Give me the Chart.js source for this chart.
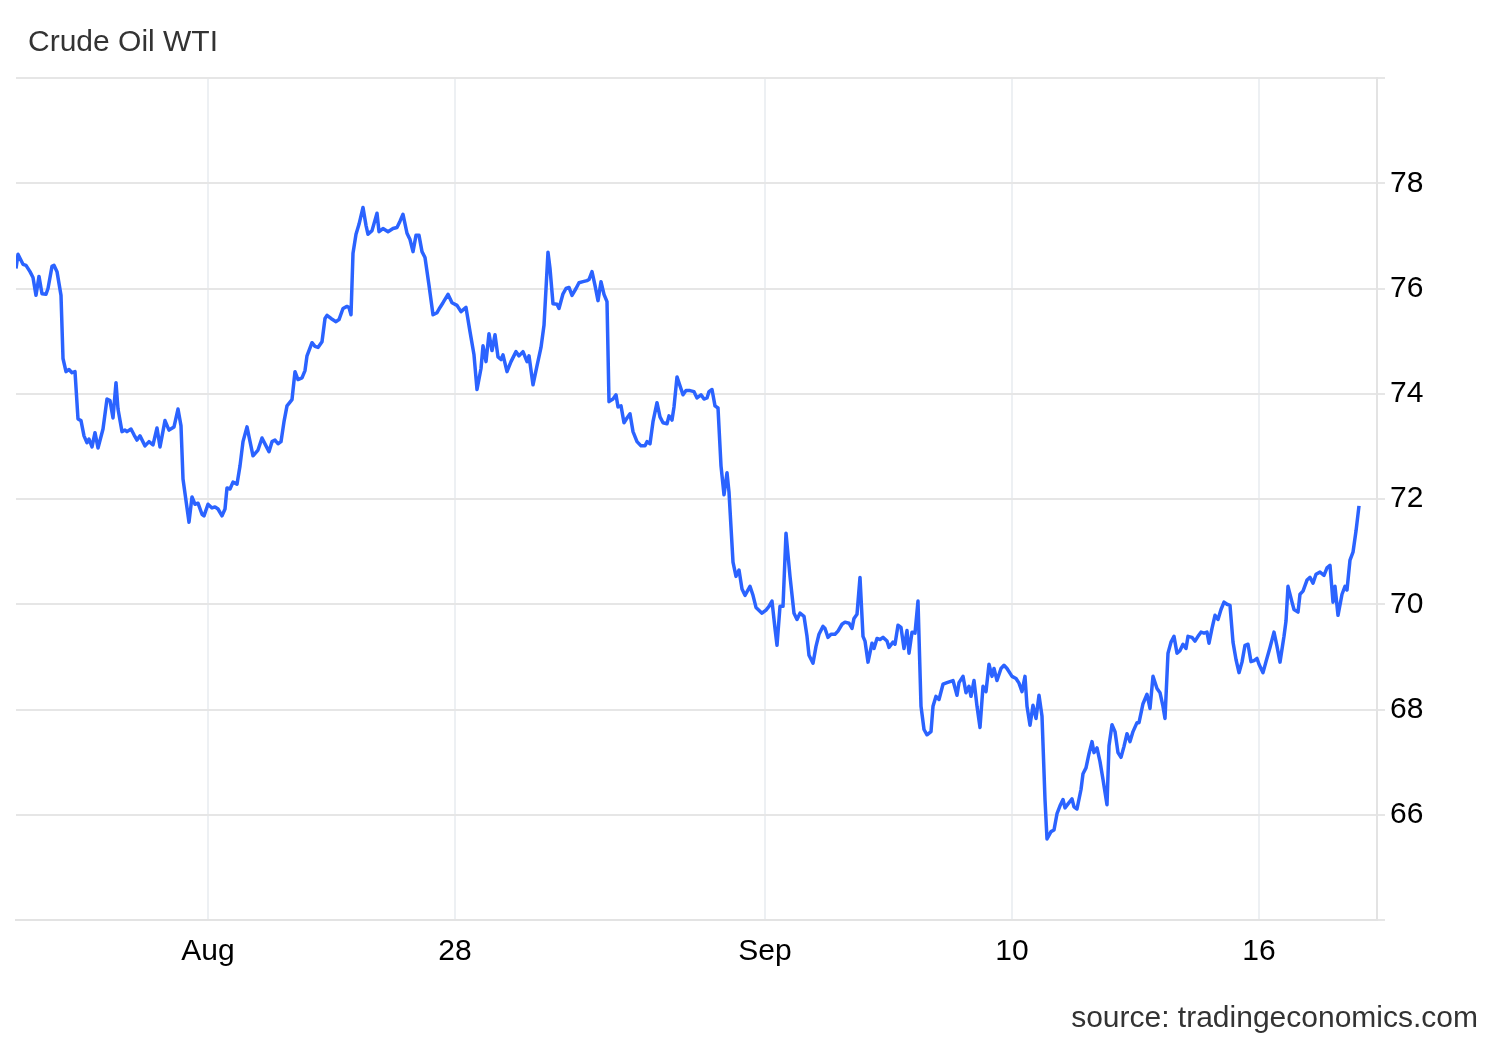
<!DOCTYPE html>
<html>
<head>
<meta charset="utf-8">
<script src="https://cdn.jsdelivr.net/npm/chart.js@4.4.1/dist/chart.umd.min.js"></script>
<style>
  body { margin: 0; background: #fff; }
  #wrap { position: relative; width: 1500px; height: 1040px; }
  #chart { position: absolute; left: 0; top: 0; }
  .txt { position: absolute; font-family: "Liberation Sans", Arial, sans-serif; font-size: 30px; line-height: 30px; color: #333; white-space: nowrap; }
  #title { left: 28px; top: 26px; }
  #source { right: 22px; top: 1002px; }
</style>
</head>
<body>
<div id="wrap">
  <canvas id="chart" width="1500" height="1040"></canvas>
  <div id="title" class="txt">Crude Oil WTI</div>
  <div id="source" class="txt">source: tradingeconomics.com</div>
</div>
<script>
// Crude Oil WTI, intraday prices (x = hours from start of the window)
const times = [
  0, 1, 3.5, 5, 7, 8.5, 10, 11.5, 13, 15,
  16, 18, 19, 20.5, 22.5, 23.5, 25, 26.5, 28, 29.5,
  31, 32.5, 34, 35.5, 36.5, 38, 39.5, 41, 43.5, 45.5,
  47, 48.5, 50, 51, 53, 54.5, 55.5, 57.5, 59, 60.5,
  62, 64.5, 66.5, 68.5, 70.5, 72, 74.5, 76.5, 79, 81,
  82.5, 83.5, 86.5, 88, 89.5, 91, 93, 94, 96, 98,
  99.5, 101, 103, 104.5, 105.5, 107, 108.5, 110.5, 112, 113.5,
  115.5, 118.5, 121, 123, 125, 126.5, 128, 129.5, 131, 132.5,
  134, 135.5, 138, 139.5, 141, 143, 144.5, 145.5, 148, 149.5,
  151, 153, 154.5, 155.5, 157.5, 160, 161.5, 163.5, 165.5, 166.5,
  167.5, 168.5, 170, 171.5, 173.5, 175, 176, 178, 180.5, 181.5,
  183.5, 186, 188.5, 190.5, 192, 193.5, 195.5, 197, 198.5, 200,
  201.5, 203, 204.5, 206.5, 208.5, 210.5, 212, 213.5, 216, 218,
  220.5, 222.5, 225,
  227, 229, 230.5, 232.5, 233.5, 235, 236.5, 238, 239.5, 241,
  242.5, 243.5, 245.5, 247.5, 250, 251.5, 253.5, 255.5, 256.5, 258.5,
  260.5, 262.5, 264, 266, 267, 268.5, 270.5, 271.5, 273.5, 275,
  276.5, 278, 280, 281.5, 283.5, 285.5, 286.5, 288, 289.5, 291,
  292.5, 294, 295.5, 296.5, 298.5, 300, 301, 302.5, 304, 305.5,
  307, 308.5, 310.5, 312.5, 314.5, 315.5, 317, 318.5, 320.5, 322,
  323.5, 325.5, 326.5, 328, 329, 330.5, 332, 333.5, 335, 337,
  339, 340.5, 342.5, 344, 345.5, 346.5, 348, 349.5, 351, 352.5,
  354, 355.5, 356.5, 358.5, 360, 361.5, 363, 364.5, 367, 368.5,
  370, 373, 375, 376.5, 378, 379.5, 380.5, 382, 383.5, 385,
  387, 389, 390.5, 392, 394, 395.5, 396.5, 398.5, 400, 401.5,
  403.5, 404.5, 406, 407.5, 409.5, 411, 413, 414.5, 416.5, 418,
  419, 420.5, 422, 423.5, 424.5, 426, 428, 429, 430.5, 432,
  433.5, 435.5, 436.5, 438.5, 439.5, 441, 442.5, 444, 445.5, 446.5,
  448, 449.5, 451, 452.5, 454, 455.5, 457.5, 458.5, 460, 461.5,
  463.5, 465.5, 467, 468.5, 470.5, 471.5, 473.5, 475, 476.5, 477.5,
  479, 480.5, 482, 483.5, 485, 486.5, 488, 489, 490.5, 492.5,
  494, 495.5, 498, 500, 501.5, 503, 504.5, 505.5, 507, 508.5,
  510, 511.5, 513, 514.5, 515.5, 517.5, 519, 520.5, 522, 523.5,
  524.5, 526.5, 528, 529, 530.5, 532.5, 533.5, 535, 536.5, 538,
  539, 540.5, 542, 543.5, 545.5, 546.5, 548, 549.5, 551, 552.5,
  554, 555.5, 557, 558.5, 560.5, 561.5, 563.5, 565.5, 567, 568.5,
  570.5, 572, 573.5, 574.5, 576, 577.5, 579, 580.5, 582, 583.5,
  585, 586, 588, 589.5, 591, 592.5, 594, 595.5, 596.5, 598,
  599.5, 601, 602.5, 604, 605.5, 607, 608.5, 610, 611.5, 613,
  614.5, 616, 617.5, 619, 620.5, 621.5, 623.5, 625, 627, 629,
  630.5, 632, 634, 635, 636, 638, 639, 641, 642, 643.5,
  645.5, 647, 648.5, 650, 652, 654, 655.5, 657, 658.5, 659.5,
  661, 663, 664.5, 665.5, 667, 668.5, 670, 671.5
];

const prices = [
  76.38, 76.65, 76.46, 76.44, 76.32, 76.21, 75.87, 76.23, 75.90, 75.89,
  76.00, 76.42, 76.44, 76.32, 75.87, 74.67, 74.42, 74.46, 74.40, 74.42,
  73.52, 73.49, 73.20, 73.07, 73.14, 72.99, 73.26, 72.97, 73.33, 73.90,
  73.87, 73.54, 74.21, 73.71, 73.28, 73.31, 73.28, 73.33, 73.22, 73.12,
  73.20, 73.01, 73.09, 73.03, 73.35, 72.99, 73.49, 73.31, 73.37, 73.71,
  73.39, 72.38, 71.56, 72.04, 71.90, 71.92, 71.71, 71.68, 71.90, 71.83,
  71.85, 71.81, 71.68, 71.81, 72.21, 72.19, 72.32, 72.28, 72.63, 73.09,
  73.37, 72.82, 72.93, 73.16, 73.01, 72.90, 73.09, 73.12, 73.05, 73.09,
  73.47, 73.77, 73.89, 74.42, 74.27, 74.30, 74.44, 74.72, 74.97, 74.90,
  74.88, 74.99, 75.43, 75.49, 75.43, 75.37, 75.41, 75.62, 75.66, 75.64,
  75.50, 76.67, 77.03, 77.22, 77.54, 77.20, 77.03, 77.10, 77.43, 77.08,
  77.14, 77.08, 77.14, 77.16, 77.28, 77.41, 77.05, 76.93, 76.70, 77.01,
  77.01, 76.70, 76.59, 76.06, 75.50, 75.54, 75.64, 75.73, 75.89, 75.73,
  75.68, 75.56, 75.64,
  75.18, 74.74, 74.08, 74.48, 74.91, 74.61, 75.14, 74.82, 75.12, 74.70,
  74.65, 74.74, 74.42, 74.61, 74.80, 74.72, 74.80, 74.61, 74.72, 74.17,
  74.53, 74.88, 75.30, 76.69, 76.38, 75.71, 75.70, 75.62, 75.90, 76.00,
  76.02, 75.87, 76.00, 76.11, 76.13, 76.15, 76.17, 76.32, 76.06, 75.77,
  76.13, 75.89, 75.75, 73.85, 73.90, 73.98, 73.75, 73.77, 73.45, 73.54,
  73.62, 73.28, 73.09, 73.01, 73.01, 73.09, 73.05, 73.47, 73.83, 73.56,
  73.45, 73.43, 73.58, 73.50, 73.75, 74.32, 74.15, 73.98, 74.06, 74.06,
  74.04, 73.92, 73.98, 73.90, 73.92, 74.04, 74.08, 73.77, 73.73, 72.63,
  72.08, 72.50, 72.13, 70.80, 70.53, 70.65, 70.29, 70.17, 70.34, 70.17,
  69.94, 69.83, 69.89, 69.96, 70.06, 69.54, 69.22, 69.96, 69.96, 71.35,
  70.53, 69.83, 69.71, 69.83, 69.77, 69.39, 69.03, 68.88, 69.20, 69.43,
  69.58, 69.54, 69.37, 69.43, 69.43, 69.49, 69.62, 69.66, 69.64, 69.54,
  69.73, 69.81, 70.51, 69.39, 69.30, 68.90, 69.26, 69.16, 69.35, 69.33,
  69.37, 69.30, 69.18, 69.28, 69.24, 69.60, 69.56, 69.16, 69.50, 69.07,
  69.47, 69.45, 70.06, 68.06, 67.62, 67.52, 67.58, 68.06, 68.25, 68.19,
  68.48, 68.51, 68.53, 68.55, 68.27, 68.51, 68.63, 68.32, 68.44, 68.25,
  68.55, 68.06, 67.66, 68.44, 68.34, 68.86, 68.63, 68.78, 68.55, 68.78,
  68.84, 68.78, 68.63, 68.59, 68.50, 68.34, 68.63, 68.06, 67.70, 68.08,
  67.83, 68.27, 67.87, 66.29, 65.54, 65.68, 65.71, 66.02, 66.17, 66.29,
  66.13, 66.23, 66.30, 66.15, 66.11, 66.48, 66.78, 66.89, 67.16, 67.39,
  67.18, 67.27, 67.01, 66.67, 66.19, 67.31, 67.71, 67.58, 67.18, 67.09,
  67.30, 67.54, 67.39, 67.58, 67.75, 67.75, 68.11, 68.29, 68.02, 68.63,
  68.40, 68.32, 68.06, 67.83, 69.07, 69.28, 69.39, 69.07, 69.12, 69.24,
  69.16, 69.39, 69.37, 69.30, 69.39, 69.47, 69.45, 69.47, 69.26, 69.54,
  69.79, 69.71, 69.90, 70.04, 70.00, 69.98, 69.28, 68.95, 68.70, 68.90,
  69.22, 69.24, 68.91, 68.93, 68.97, 68.86, 68.70, 68.91, 69.18, 69.47,
  69.20, 68.90, 69.39, 69.68, 70.34, 70.04, 69.90, 69.85, 70.19, 70.25,
  70.46, 70.51, 70.40, 70.57, 70.61, 70.55, 70.69, 70.74, 70.04, 70.34,
  69.79, 70.19, 70.34, 70.27, 70.84, 70.99, 71.39, 71.87
];

// x axis labels and where they sit (hours)
const tickLabels = ["Aug", "28", "Sep", "10", "16"];
const tickPos = [96, 219.5, 374.5, 498, 621.5];

const FONT = "'Liberation Sans', Arial, sans-serif";

new Chart(document.getElementById("chart"), {
  type: "line",
  data: {
    datasets: [{
      label: "Crude Oil WTI",
      data: times.map((t, i) => ({ x: t, y: prices[i] })),
      borderColor: "#2b63ff",
      borderWidth: 3.5,
      borderJoinStyle: "round",
      pointRadius: 0,
      tension: 0,
      fill: false,
    }],
  },
  options: {
    responsive: false,
    animation: false,
    layout: {
      padding: { left: 16, top: 78, right: 0, bottom: 0 },
    },
    plugins: {
      legend: { display: false },
      tooltip: { enabled: false },
    },
    scales: {
      x: {
        type: "linear",
        min: 0,
        max: 680.5,
        afterBuildTicks: scale => {
          scale.ticks = tickPos.map(v => ({ value: v }));
        },
        afterFit: scale => { scale.height = 120; },
        ticks: {
          autoSkip: false,
          maxRotation: 0,
          padding: 14,
          color: "#000",
          font: { family: FONT, size: 30 },
          callback: (value, index) => tickLabels[index],
        },
        grid: {
          color: "#edf0f3",
          lineWidth: 2,
          drawTicks: false,
        },
        border: { display: true, color: "#e3e3e3", width: 2 },
      },
      y: {
        position: "right",
        min: 64,
        max: 80,
        afterFit: scale => { scale.width = 123; },
        ticks: {
          stepSize: 2,
          padding: 5,
          color: "#000",
          font: { family: FONT, size: 30 },
          callback: v => (v === 64 || v === 80) ? "" : v,
        },
        grid: {
          color: "#e6e6e6",
          lineWidth: 2,
          tickLength: 8,
        },
        border: { display: true, color: "#e3e3e3", width: 2 },
      },
    },
  },
});
</script>
</body>
</html>
